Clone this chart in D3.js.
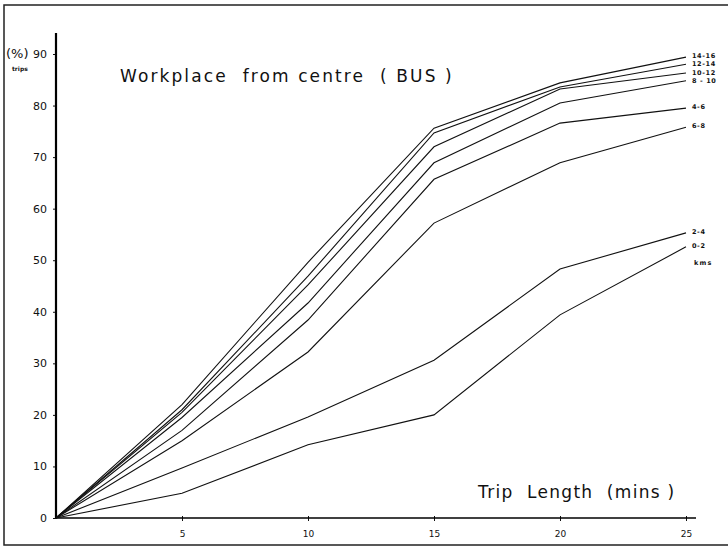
<!DOCTYPE html>
<html>
<head>
<meta charset="utf-8">
<script src="https://cdn.jsdelivr.net/npm/d3@7"></script>
<style>
  html, body { margin: 0; padding: 0; background: #fff; }
  svg { display: block; }
  text { font-family: "DejaVu Sans", sans-serif; fill: #111; }
</style>
</head>
<body>
<svg id="chart" width="728" height="547"></svg>
<script>
// Trip length in minutes
const tripMinutes = [0, 5, 10, 15, 20, 25];

// Cumulative % of trips, by distance band (kms)
const band14_16 = [0, 22.0, 49.6, 75.6, 84.4, 89.4];
const band12_14 = [0, 21.0, 46.9, 74.7, 83.6, 88.0];
const band10_12 = [0, 20.5, 45.2, 72.0, 83.2, 86.3];
const band8_10  = [0, 19.5, 41.7, 68.9, 80.5, 84.8];
const band4_6   = [0, 17.0, 38.4, 65.7, 76.6, 79.5];
const band6_8   = [0, 15.0, 32.2, 57.2, 68.9, 75.8];
const band2_4   = [0, 9.7, 19.6, 30.6, 48.3, 55.3];
const band0_2   = [0, 4.8, 14.2, 20.0, 39.4, 52.6];

const seriesNames = ["14-16", "12-14", "10-12", "8 - 10", "4-6", "6-8", "2-4", "0-2"];
const seriesValues = [band14_16, band12_14, band10_12, band8_10, band4_6, band6_8, band2_4, band0_2];

const yTicks = [0, 10, 20, 30, 40, 50, 60, 70, 80, 90];
const xTicks = [5, 10, 15, 20, 25];

const svg = d3.select("#chart");

// page frame
svg.append("path")
  .attr("d", "M728,5 H4 V545 H728")
  .attr("fill", "none").attr("stroke", "#222").attr("stroke-width", 1.5);

const x = d3.scaleLinear().domain([0, 25]).range([56, 686]);
const y = d3.scaleLinear().domain([0, 90]).range([518, 54]);

// y axis
const yAxis = svg.append("g").attr("transform", "translate(56,0)")
  .call(d3.axisLeft(y).tickValues(yTicks).tickSize(3).tickPadding(6));
yAxis.select(".domain").remove();
yAxis.selectAll("text").attr("font-size", 11).style("font-family", "DejaVu Sans");
yAxis.selectAll("line").attr("stroke", "#111");
svg.append("line").attr("x1", 56).attr("x2", 56).attr("y1", 33).attr("y2", y(0))
  .attr("stroke", "#000").attr("stroke-width", 2.2);

// x axis
const xAxis = svg.append("g").attr("transform", `translate(0,${y(0)})`)
  .call(d3.axisBottom(x).tickValues(xTicks).tickSize(3).tickPadding(10).tickSizeOuter(0));
xAxis.select(".domain").remove();
xAxis.selectAll("text").attr("font-size", 9).style("font-family", "DejaVu Sans");
xAxis.selectAll("line").attr("stroke", "#111").attr("y1", -2);
svg.append("line").attr("x1", 56).attr("x2", 696).attr("y1", y(0)).attr("y2", y(0))
  .attr("stroke", "#000").attr("stroke-width", 1.6);

// curves
const line = d3.line().x((d, i) => x(tripMinutes[i])).y(d => y(d));
svg.append("g").selectAll("path").data(seriesValues).join("path")
  .attr("d", line).attr("fill", "none").attr("stroke", "#111").attr("stroke-width", 1.1);

// band labels at line ends, nudged apart so they never collide
const labelY = seriesValues.map(v => y(v[v.length - 1]));
for (let i = 1; i < labelY.length; i++) {
  if (labelY[i] - labelY[i - 1] < 8.5) labelY[i] = labelY[i - 1] + 8.5;
}
svg.append("g").selectAll("text").data(seriesNames).join("text")
  .attr("x", 692)
  .attr("y", (d, i) => labelY[i] - 1)
  .attr("dominant-baseline", "middle")
  .attr("font-size", 6.5).attr("font-weight", "bold").attr("letter-spacing", 0.6)
  .text(d => d);
svg.append("text").attr("x", 694).attr("y", 263)
  .attr("dominant-baseline", "middle")
  .attr("font-size", 6.5).attr("font-weight", "bold").attr("letter-spacing", 1.2).text("kms");

// y axis unit
svg.append("text").attr("x", 6).attr("y", 58).attr("font-size", 13).text("(%)");
svg.append("text").attr("x", 12).attr("y", 71).attr("font-size", 6).attr("font-weight", "bold").text("trips");

// titles
svg.append("text").attr("x", 120).attr("y", 82).attr("font-size", 17)
  .attr("letter-spacing", 2.1).attr("xml:space", "preserve")
  .text("Workplace  from centre  ( BUS )");
svg.append("text").attr("x", 478).attr("y", 498).attr("font-size", 17)
  .attr("letter-spacing", 1.3).attr("xml:space", "preserve")
  .text("Trip  Length  (mins )");
</script>
</body>
</html>
